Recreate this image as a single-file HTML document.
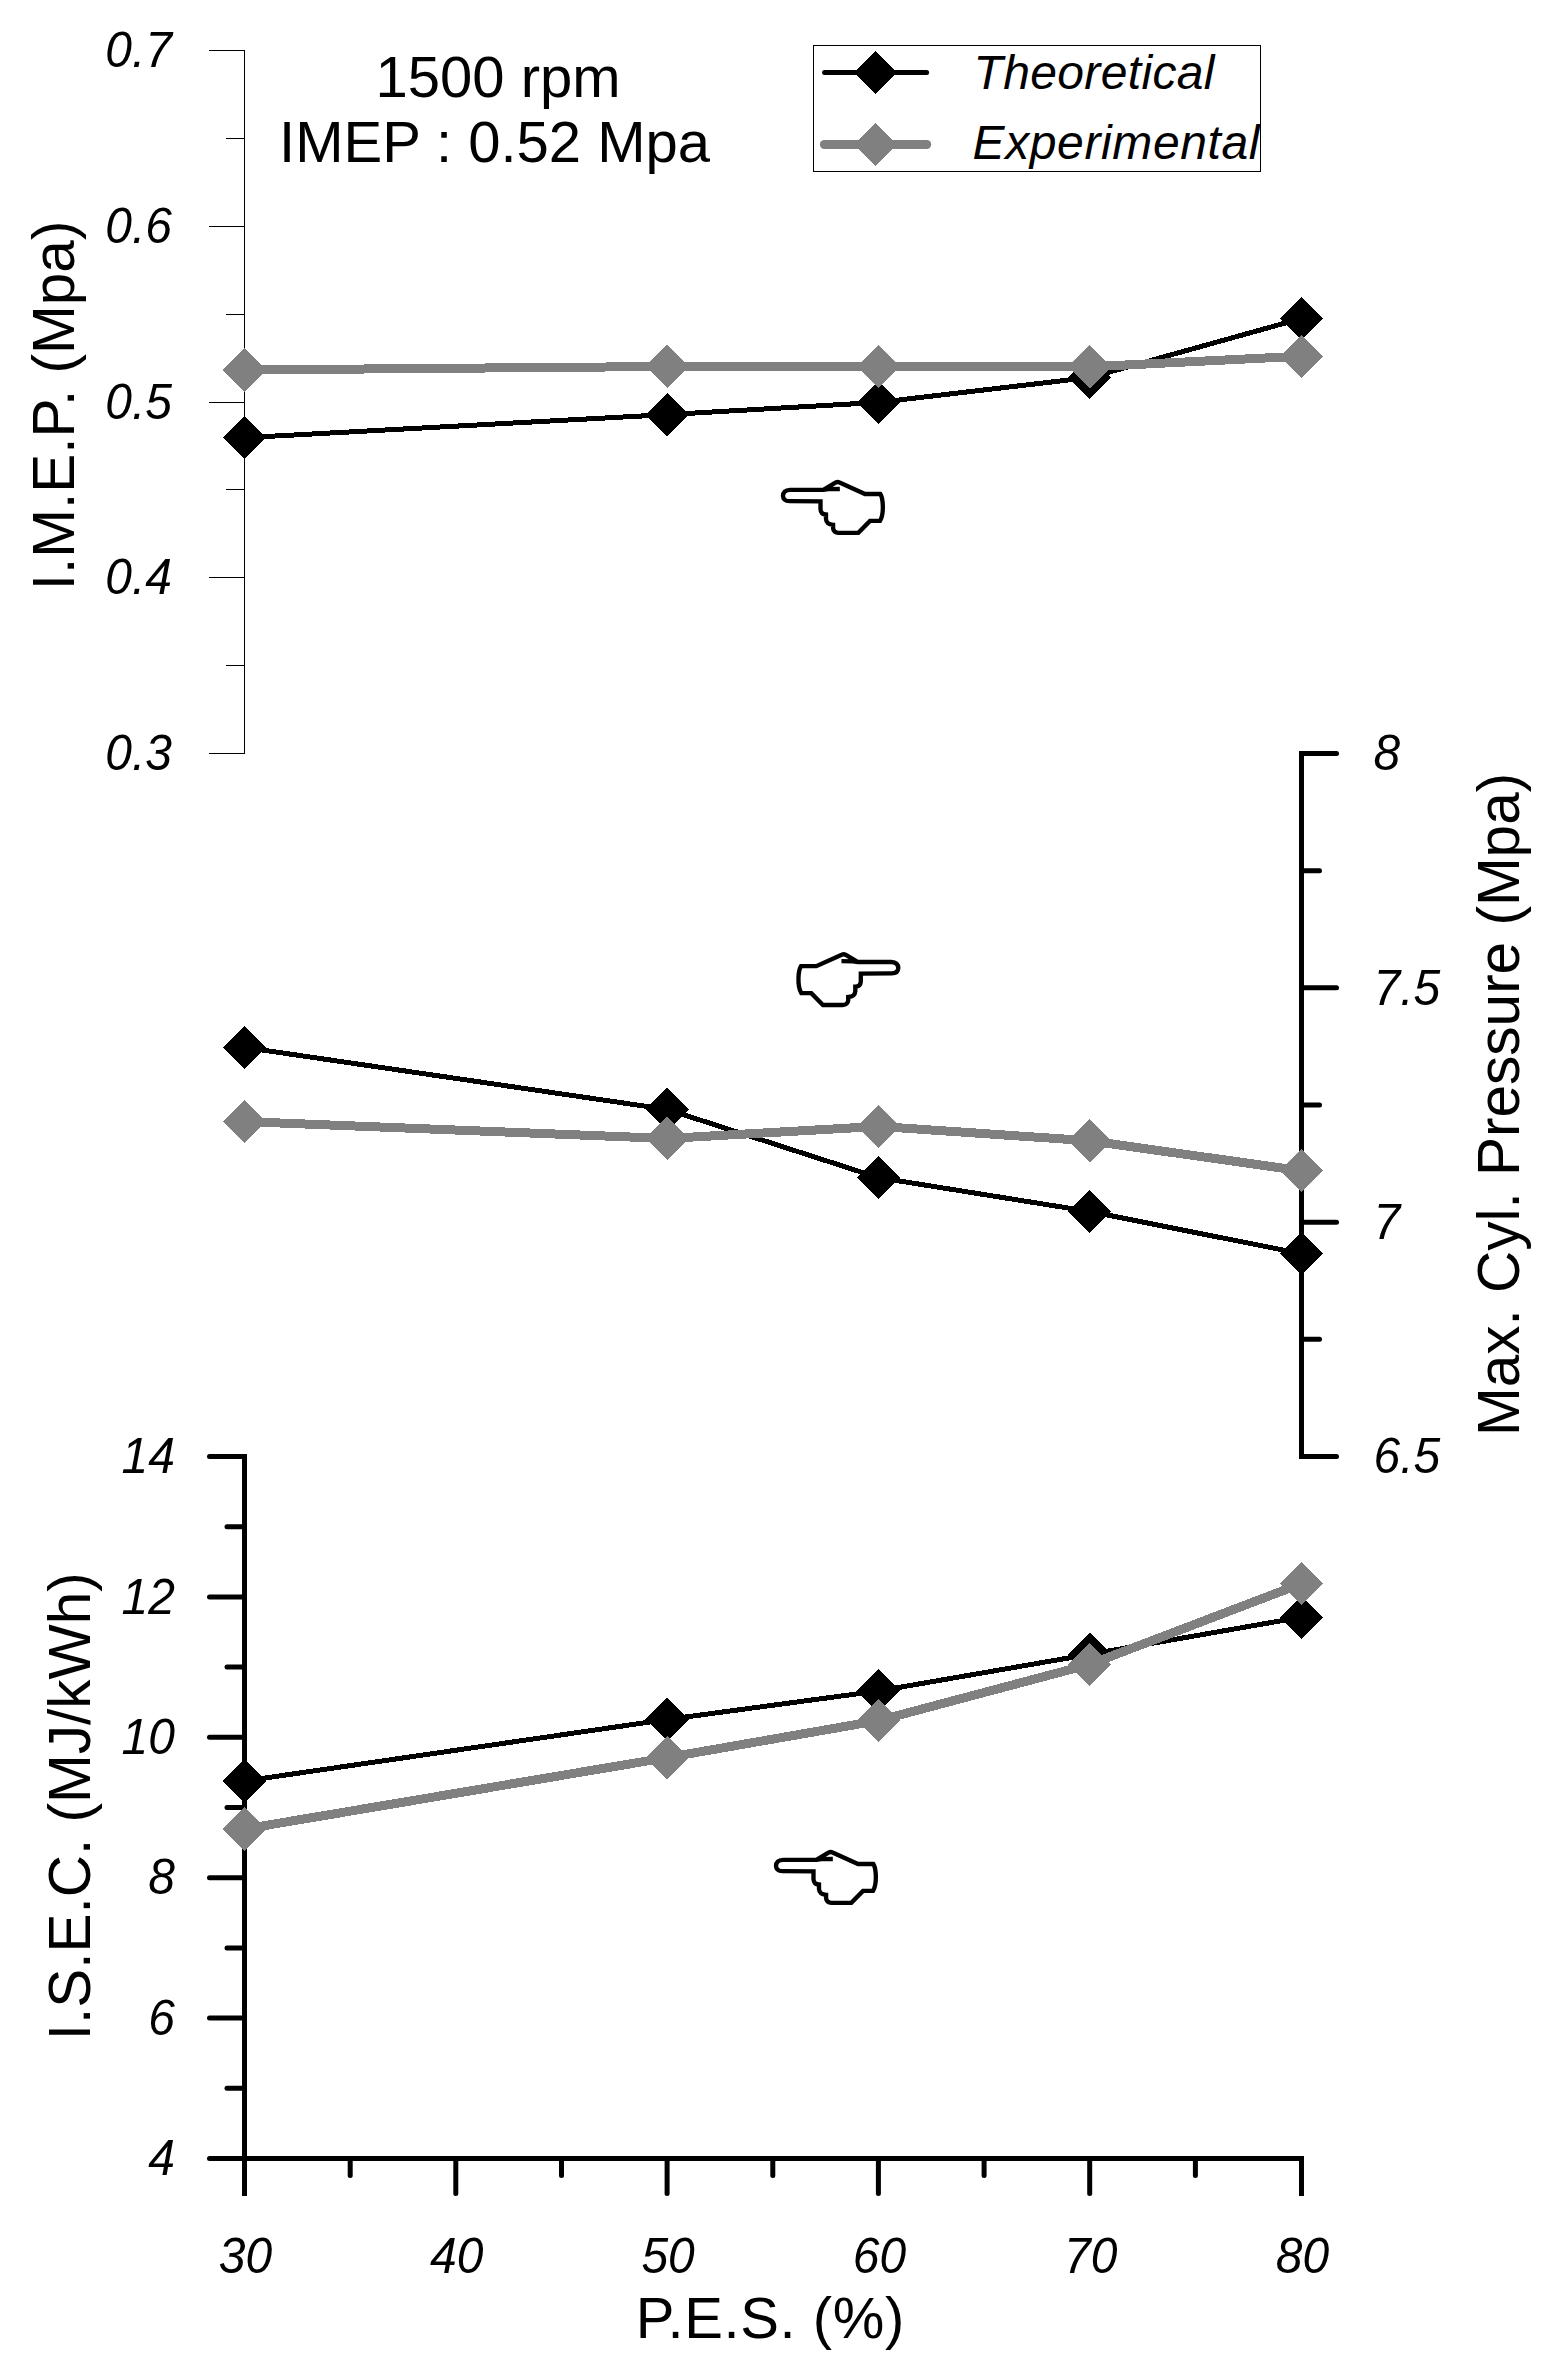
<!DOCTYPE html>
<html lang="en">
<head>
<meta charset="utf-8">
<title>1500 rpm IMEP 0.52 Mpa</title>
<style>
html,body{margin:0;padding:0;background:#fff;}
body{width:1559px;height:2374px;overflow:hidden;}
svg{display:block;}
text{font-family:"Liberation Sans",Arial,Helvetica,sans-serif;fill:#000;}
.tk{font-size:48px;font-style:italic;}
.tt{font-size:58px;}
.tr{font-size:58.5px;}
.thin{stroke:#000;stroke-width:1;shape-rendering:crispEdges;fill:none;}
.thick{stroke:#000;stroke-width:5;fill:none;}
</style>
</head>
<body>
<svg width="1559" height="2374" viewBox="0 0 1559 2374">
<rect x="0" y="0" width="1559" height="2374" fill="#fff"/>

<g class="thin">
<line x1="244.5" y1="50" x2="244.5" y2="754"/>
<line x1="209" y1="50.50" x2="245" y2="50.50"/>
<line x1="226" y1="138.38" x2="245" y2="138.38"/>
<line x1="209" y1="226.25" x2="245" y2="226.25"/>
<line x1="226" y1="314.12" x2="245" y2="314.12"/>
<line x1="209" y1="402.00" x2="245" y2="402.00"/>
<line x1="226" y1="489.88" x2="245" y2="489.88"/>
<line x1="209" y1="577.75" x2="245" y2="577.75"/>
<line x1="226" y1="665.62" x2="245" y2="665.62"/>
<line x1="209" y1="753.50" x2="245" y2="753.50"/>
</g>
<text class="tk" transform="translate(172,67.1) scale(1,1.05)" text-anchor="end">0.7</text>
<text class="tk" transform="translate(172,242.8) scale(1,1.05)" text-anchor="end">0.6</text>
<text class="tk" transform="translate(172,418.6) scale(1,1.05)" text-anchor="end">0.5</text>
<text class="tk" transform="translate(172,594.4) scale(1,1.05)" text-anchor="end">0.4</text>
<text class="tk" transform="translate(172,770.1) scale(1,1.05)" text-anchor="end">0.3</text>
<g class="thick">
<line x1="1301.5" y1="751" x2="1301.5" y2="1459"/>
<line x1="1301.5" y1="753.50" x2="1336.5" y2="753.50" stroke-linecap="round"/>
<line x1="1301.5" y1="870.67" x2="1319.5" y2="870.67" stroke-linecap="round"/>
<line x1="1301.5" y1="987.83" x2="1336.5" y2="987.83" stroke-linecap="round"/>
<line x1="1301.5" y1="1105.00" x2="1319.5" y2="1105.00" stroke-linecap="round"/>
<line x1="1301.5" y1="1222.16" x2="1336.5" y2="1222.16" stroke-linecap="round"/>
<line x1="1301.5" y1="1339.33" x2="1319.5" y2="1339.33" stroke-linecap="round"/>
<line x1="1301.5" y1="1456.49" x2="1336.5" y2="1456.49" stroke-linecap="round"/>
</g>
<text class="tk" transform="translate(1373.5,770.3) scale(1,1.05)">8</text>
<text class="tk" transform="translate(1373.5,1004.6) scale(1,1.05)">7.5</text>
<text class="tk" transform="translate(1373.5,1239.0) scale(1,1.05)">7</text>
<text class="tk" transform="translate(1373.5,1473.3) scale(1,1.05)">6.5</text>
<g class="thick">
<line x1="244.5" y1="1454" x2="244.5" y2="2196"/>
<line x1="242" y1="2158.5" x2="1304" y2="2158.5"/>
<line x1="209.5" y1="1456.50" x2="244.5" y2="1456.50" stroke-linecap="round"/>
<line x1="227" y1="1526.70" x2="244.5" y2="1526.70" stroke-linecap="round"/>
<line x1="209.5" y1="1596.90" x2="244.5" y2="1596.90" stroke-linecap="round"/>
<line x1="227" y1="1667.10" x2="244.5" y2="1667.10" stroke-linecap="round"/>
<line x1="209.5" y1="1737.30" x2="244.5" y2="1737.30" stroke-linecap="round"/>
<line x1="227" y1="1807.50" x2="244.5" y2="1807.50" stroke-linecap="round"/>
<line x1="209.5" y1="1877.70" x2="244.5" y2="1877.70" stroke-linecap="round"/>
<line x1="227" y1="1947.90" x2="244.5" y2="1947.90" stroke-linecap="round"/>
<line x1="209.5" y1="2018.10" x2="244.5" y2="2018.10" stroke-linecap="round"/>
<line x1="227" y1="2088.30" x2="244.5" y2="2088.30" stroke-linecap="round"/>
<line x1="209.5" y1="2158.50" x2="244.5" y2="2158.50" stroke-linecap="round"/>
<line x1="455.8" y1="2158.5" x2="455.8" y2="2193.5" stroke-linecap="round"/>
<line x1="667.1" y1="2158.5" x2="667.1" y2="2193.5" stroke-linecap="round"/>
<line x1="878.4" y1="2158.5" x2="878.4" y2="2193.5" stroke-linecap="round"/>
<line x1="1089.7" y1="2158.5" x2="1089.7" y2="2193.5" stroke-linecap="round"/>
<line x1="1301.5" y1="2158.5" x2="1301.5" y2="2196"/>
<line x1="350.2" y1="2158.5" x2="350.2" y2="2175.5" stroke-linecap="round"/>
<line x1="561.5" y1="2158.5" x2="561.5" y2="2175.5" stroke-linecap="round"/>
<line x1="772.8" y1="2158.5" x2="772.8" y2="2175.5" stroke-linecap="round"/>
<line x1="984.1" y1="2158.5" x2="984.1" y2="2175.5" stroke-linecap="round"/>
<line x1="1195.4" y1="2158.5" x2="1195.4" y2="2175.5" stroke-linecap="round"/>
</g>
<text class="tk" transform="translate(175,1473.1) scale(1,1.05)" text-anchor="end">14</text>
<text class="tk" transform="translate(175,1613.5) scale(1,1.05)" text-anchor="end">12</text>
<text class="tk" transform="translate(175,1753.9) scale(1,1.05)" text-anchor="end">10</text>
<text class="tk" transform="translate(175,1894.3) scale(1,1.05)" text-anchor="end">8</text>
<text class="tk" transform="translate(175,2034.7) scale(1,1.05)" text-anchor="end">6</text>
<text class="tk" transform="translate(175,2175.1) scale(1,1.05)" text-anchor="end">4</text>
<text class="tk" transform="translate(245.5,2272.5) scale(1,1.05)" text-anchor="middle">30</text>
<text class="tk" transform="translate(456.8,2272.5) scale(1,1.05)" text-anchor="middle">40</text>
<text class="tk" transform="translate(668.1,2272.5) scale(1,1.05)" text-anchor="middle">50</text>
<text class="tk" transform="translate(879.4,2272.5) scale(1,1.05)" text-anchor="middle">60</text>
<text class="tk" transform="translate(1090.7,2272.5) scale(1,1.05)" text-anchor="middle">70</text>
<text class="tk" transform="translate(1302.5,2272.5) scale(1,1.05)" text-anchor="middle">80</text>
<text class="tt" x="498" y="96.8" text-anchor="middle">1500 rpm</text>
<text class="tt" x="494.5" y="162.3" text-anchor="middle">IMEP : 0.52 Mpa</text>
<text class="tt tr" transform="translate(74.3,405.4) rotate(-90)" text-anchor="middle">I.M.E.P. (Mpa)</text>
<text class="tt tr" transform="translate(89.6,1806.2) rotate(-90)" text-anchor="middle">I.S.E.C. (MJ/kWh)</text>
<text class="tt tr" transform="translate(1518.5,1104.4) rotate(-90)" text-anchor="middle">Max. Cyl. Pressure (Mpa)</text>
<text class="tt" x="770" y="2337.5" text-anchor="middle" textLength="268.5" lengthAdjust="spacing">P.E.S. (%)</text>
<rect x="813.5" y="45.5" width="447" height="126" fill="#fff" stroke="#000" stroke-width="1" shape-rendering="crispEdges"/>
<clipPath id="lc"><rect x="814" y="46" width="446" height="125"/></clipPath>
<line x1="824.6" y1="72.5" x2="926.6" y2="72.5" stroke="#000" stroke-width="5" stroke-linecap="round"/>
<polygon points="853.9,72.4 875.5,50.8 897.1,72.4 875.5,94.0" fill="#000" shape-rendering="crispEdges"/>
<line x1="824.4" y1="144.5" x2="926.7" y2="144.5" stroke="#808080" stroke-width="9" stroke-linecap="round"/>
<polygon points="853.9,144.6 875.5,123.0 897.1,144.6 875.5,166.2" fill="#808080" shape-rendering="crispEdges"/>
<g clip-path="url(#lc)">
<text class="tk" x="973.5" y="88.5" textLength="241" lengthAdjust="spacing">Theoretical</text>
<text class="tk" x="972.5" y="159" textLength="287" lengthAdjust="spacing">Experimental</text>
</g>
<polyline points="244.5,437.7 667.1,414.6 878.4,402.4 1089.7,377.5 1301.5,318.5" fill="none" stroke="#000" stroke-width="5" stroke-linejoin="round" shape-rendering="crispEdges"/>
<polygon points="222.9,437.7 244.5,416.1 266.1,437.7 244.5,459.3" fill="#000" shape-rendering="crispEdges"/>
<polygon points="645.5,414.6 667.1,393.0 688.7,414.6 667.1,436.2" fill="#000" shape-rendering="crispEdges"/>
<polygon points="856.8,402.4 878.4,380.8 900.0,402.4 878.4,424.0" fill="#000" shape-rendering="crispEdges"/>
<polygon points="1068.1,377.5 1089.7,355.9 1111.3,377.5 1089.7,399.1" fill="#000" shape-rendering="crispEdges"/>
<polygon points="1279.9,318.5 1301.5,296.9 1323.1,318.5 1301.5,340.1" fill="#000" shape-rendering="crispEdges"/>

<polyline points="244.5,370.0 667.1,366.5 878.4,366.5 1089.7,366.8 1301.5,356.2" fill="none" stroke="#808080" stroke-width="9" stroke-linejoin="round" shape-rendering="crispEdges"/>
<polygon points="222.9,370.0 244.5,348.4 266.1,370.0 244.5,391.6" fill="#808080" shape-rendering="crispEdges"/>
<polygon points="645.5,366.5 667.1,344.9 688.7,366.5 667.1,388.1" fill="#808080" shape-rendering="crispEdges"/>
<polygon points="856.8,366.5 878.4,344.9 900.0,366.5 878.4,388.1" fill="#808080" shape-rendering="crispEdges"/>
<polygon points="1068.1,366.8 1089.7,345.2 1111.3,366.8 1089.7,388.4" fill="#808080" shape-rendering="crispEdges"/>
<polygon points="1279.9,356.2 1301.5,334.6 1323.1,356.2 1301.5,377.8" fill="#808080" shape-rendering="crispEdges"/>

<polyline points="244.5,1047.4 667.1,1109.4 878.4,1177.6 1089.7,1211.5 1301.5,1253.7" fill="none" stroke="#000" stroke-width="5" stroke-linejoin="round" shape-rendering="crispEdges"/>
<polygon points="222.9,1047.4 244.5,1025.8 266.1,1047.4 244.5,1069.0" fill="#000" shape-rendering="crispEdges"/>
<polygon points="645.5,1109.4 667.1,1087.8 688.7,1109.4 667.1,1131.0" fill="#000" shape-rendering="crispEdges"/>
<polygon points="856.8,1177.6 878.4,1156.0 900.0,1177.6 878.4,1199.2" fill="#000" shape-rendering="crispEdges"/>
<polygon points="1068.1,1211.5 1089.7,1189.9 1111.3,1211.5 1089.7,1233.1" fill="#000" shape-rendering="crispEdges"/>
<polygon points="1279.9,1253.7 1301.5,1232.1 1323.1,1253.7 1301.5,1275.3" fill="#000" shape-rendering="crispEdges"/>

<polyline points="244.5,1121.6 667.1,1138.5 878.4,1126.4 1089.7,1140.8 1301.5,1170.8" fill="none" stroke="#808080" stroke-width="9" stroke-linejoin="round" shape-rendering="crispEdges"/>
<polygon points="222.9,1121.6 244.5,1100.0 266.1,1121.6 244.5,1143.2" fill="#808080" shape-rendering="crispEdges"/>
<polygon points="645.5,1138.5 667.1,1116.9 688.7,1138.5 667.1,1160.1" fill="#808080" shape-rendering="crispEdges"/>
<polygon points="856.8,1126.4 878.4,1104.8 900.0,1126.4 878.4,1148.0" fill="#808080" shape-rendering="crispEdges"/>
<polygon points="1068.1,1140.8 1089.7,1119.2 1111.3,1140.8 1089.7,1162.4" fill="#808080" shape-rendering="crispEdges"/>
<polygon points="1279.9,1170.8 1301.5,1149.2 1323.1,1170.8 1301.5,1192.4" fill="#808080" shape-rendering="crispEdges"/>

<polyline points="244.5,1781.0 667.1,1719.5 878.4,1691.0 1089.7,1654.3 1301.5,1617.2" fill="none" stroke="#000" stroke-width="5" stroke-linejoin="round" shape-rendering="crispEdges"/>
<polygon points="222.9,1781.0 244.5,1759.4 266.1,1781.0 244.5,1802.6" fill="#000" shape-rendering="crispEdges"/>
<polygon points="645.5,1719.5 667.1,1697.9 688.7,1719.5 667.1,1741.1" fill="#000" shape-rendering="crispEdges"/>
<polygon points="856.8,1691.0 878.4,1669.4 900.0,1691.0 878.4,1712.6" fill="#000" shape-rendering="crispEdges"/>
<polygon points="1068.1,1654.3 1089.7,1632.7 1111.3,1654.3 1089.7,1675.9" fill="#000" shape-rendering="crispEdges"/>
<polygon points="1279.9,1617.2 1301.5,1595.6 1323.1,1617.2 1301.5,1638.8" fill="#000" shape-rendering="crispEdges"/>

<polyline points="244.5,1829.0 667.1,1757.6 878.4,1720.6 1089.7,1664.4 1301.5,1583.6" fill="none" stroke="#808080" stroke-width="9" stroke-linejoin="round" shape-rendering="crispEdges"/>
<polygon points="222.9,1829.0 244.5,1807.4 266.1,1829.0 244.5,1850.6" fill="#808080" shape-rendering="crispEdges"/>
<polygon points="645.5,1757.6 667.1,1736.0 688.7,1757.6 667.1,1779.2" fill="#808080" shape-rendering="crispEdges"/>
<polygon points="856.8,1720.6 878.4,1699.0 900.0,1720.6 878.4,1742.2" fill="#808080" shape-rendering="crispEdges"/>
<polygon points="1068.1,1664.4 1089.7,1642.8 1111.3,1664.4 1089.7,1686.0" fill="#808080" shape-rendering="crispEdges"/>
<polygon points="1279.9,1583.6 1301.5,1562.0 1323.1,1583.6 1301.5,1605.2" fill="#808080" shape-rendering="crispEdges"/>

<defs><path id="hand" d="M838 228 L700 230 L640 238 L240 238 C185 240 158 262 156 312 C158 358 185 374 235 374 L606 376 L606 470 C608 515 630 533 672 534 L672 590 C676 635 705 655 757 658 L757 700 C762 735 785 752 822 754 L1060 754 L1200 611 L1320 611 C1345 570 1356 500 1354 430 C1352 360 1342 315 1324 288 L1140 288 L835 150 C815 140 795 142 775 158 L640 238" fill="none" stroke="#000" stroke-width="52" stroke-linejoin="miter" stroke-linecap="butt"/></defs>
<use href="#hand" transform="translate(770,470) scale(0.08333)"/>
<use href="#hand" transform="translate(911.3,942.2) scale(-0.08333,0.08333)"/>
<use href="#hand" transform="translate(763,1840) scale(0.08333)"/>
</svg>
</body>
</html>
